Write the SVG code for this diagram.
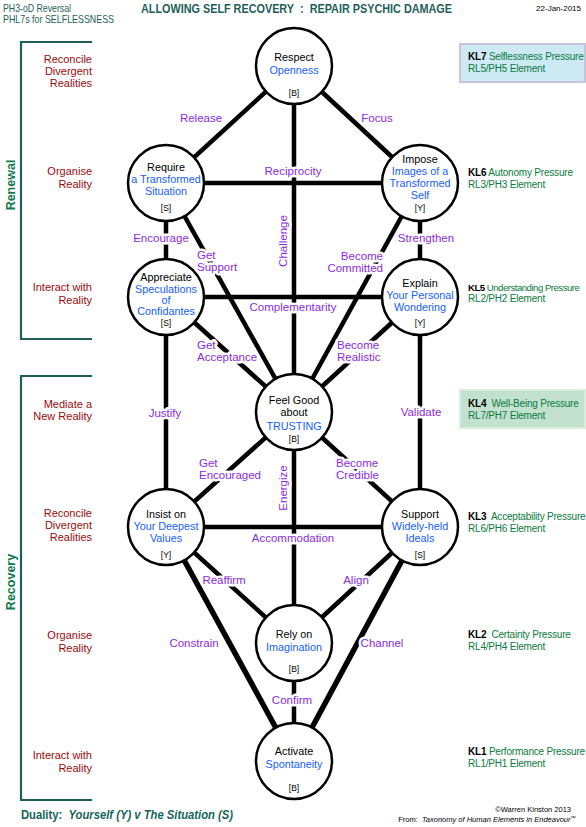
<svg xmlns="http://www.w3.org/2000/svg" width="586" height="827" viewBox="0 0 586 827">
<style>
text{font-family:"Liberation Sans",Arial,sans-serif}
.hd{fill:#1e5f5a;font-size:10.5px}
.ttl{fill:#1e5f5a;font-size:12.5px;font-weight:bold}
.lbl{fill:#9b0a0a;font-size:11px;text-anchor:end}
.grp{fill:#0f7a4f;font-size:12.5px;font-weight:bold;text-anchor:middle}
.br{fill:none;stroke:#1e5f5a;stroke-width:2.2}
.kl{fill:#0b7a3e;font-size:10px;letter-spacing:-0.2px}
.kl tspan.b{fill:#000;font-weight:bold}
.c{fill:#fff;stroke:#000;stroke-width:2.5}
.n{font-size:10.8px;text-anchor:middle;fill:#000}
.s{fill:#1560ff}
.t{font-size:8.5px;text-anchor:middle;fill:#000}
.ln{stroke:#000;stroke-width:4.5;fill:none}
.lk{stroke:#000;stroke-width:5.5;fill:none}
.el{fill:#8b2be2;font-size:11.5px;stroke:#fff;stroke-width:5;stroke-linejoin:round;paint-order:stroke}
.m{text-anchor:middle}
</style>
<rect width="586" height="827" fill="#fff"/>

<g id="header">
<text class="hd" x="3" y="12" textLength="68" lengthAdjust="spacingAndGlyphs">PH3-oD Reversal</text>
<text class="hd" x="3" y="23" textLength="111" lengthAdjust="spacingAndGlyphs">PHL7s for SELFLESSNESS</text>
<text class="ttl" x="141" y="13" textLength="311" lengthAdjust="spacingAndGlyphs">ALLOWING SELF RECOVERY&#160;&#160;:&#160;&#160;REPAIR PSYCHIC DAMAGE</text>
<text x="581" y="11" font-size="8" text-anchor="end" fill="#000">22-Jan-2015</text>
</g>

<g id="brackets">
<path class="br" d="M92,42 H21 V339 H92"/>
<path class="br" d="M92,376 H21 V800 H92"/>
<text class="grp" transform="translate(15,185) rotate(-90)">Renewal</text>
<text class="grp" transform="translate(15,582) rotate(-90)">Recovery</text>
</g>

<g id="left-labels">
<text class="lbl" x="92" y="63">Reconcile</text>
<text class="lbl" x="92" y="75">Divergent</text>
<text class="lbl" x="92" y="87">Realities</text>
<text class="lbl" x="92" y="175">Organise</text>
<text class="lbl" x="92" y="188">Reality</text>
<text class="lbl" x="92" y="291">Interact with</text>
<text class="lbl" x="92" y="304">Reality</text>
<text class="lbl" x="92" y="408">Mediate a</text>
<text class="lbl" x="92" y="420">New Reality</text>
<text class="lbl" x="92" y="517">Reconcile</text>
<text class="lbl" x="92" y="529">Divergent</text>
<text class="lbl" x="92" y="541">Realities</text>
<text class="lbl" x="92" y="639">Organise</text>
<text class="lbl" x="92" y="652">Reality</text>
<text class="lbl" x="92" y="759">Interact with</text>
<text class="lbl" x="92" y="772">Reality</text>
</g>

<g id="right-labels">
<rect x="460" y="44" width="125" height="38" fill="#cdeaf4" stroke="#c8c4de" stroke-width="2"/>
<rect x="460" y="390" width="125" height="38" fill="#c2e2cf" stroke="#d9ecdd" stroke-width="2"/>
<text class="kl" x="468" y="60"><tspan class="b">KL7</tspan> Selflessness Pressure</text>
<text class="kl" x="468" y="72">RL5/PH5 Element</text>
<text class="kl" x="468" y="176"><tspan class="b">KL6</tspan> Autonomy Pressure</text>
<text class="kl" x="468" y="188">RL3/PH3 Element</text>
<text class="kl" x="468" y="291" style="font-size:9.5px;letter-spacing:-0.45px"><tspan class="b">KL5</tspan> Understanding Pressure</text>
<text class="kl" x="468" y="302">RL2/PH2 Element</text>
<text class="kl" x="468" y="407"><tspan class="b">KL4</tspan>&#160; Well-Being Pressure</text>
<text class="kl" x="468" y="419">RL7/PH7 Element</text>
<text class="kl" x="468" y="520"><tspan class="b">KL3</tspan>&#160; Acceptability Pressure</text>
<text class="kl" x="468" y="532">RL6/PH6 Element</text>
<text class="kl" x="468" y="638"><tspan class="b">KL2</tspan>&#160; Certainty Pressure</text>
<text class="kl" x="468" y="650">RL4/PH4 Element</text>
<text class="kl" x="468" y="755"><tspan class="b">KL1</tspan> Performance Pressure</text>
<text class="kl" x="468" y="767">RL1/PH1 Element</text>
</g>

<g id="connectors">
<line class="ln" x1="294" y1="66" x2="166" y2="183"/>
<line class="ln" x1="294" y1="66" x2="420" y2="183"/>
<line class="ln" x1="294" y1="66" x2="294" y2="412"/>
<line class="ln" x1="166" y1="183" x2="420" y2="183"/>
<line class="ln" x1="166" y1="183" x2="166" y2="297"/>
<line class="ln" x1="420" y1="183" x2="420" y2="297"/>
<line class="ln" x1="166" y1="183" x2="294" y2="412"/>
<line class="ln" x1="420" y1="183" x2="294" y2="412"/>
<line class="ln" x1="166" y1="297" x2="420" y2="297"/>
<line class="ln" x1="166" y1="297" x2="294" y2="412"/>
<line class="ln" x1="420" y1="297" x2="294" y2="412"/>
<line class="ln" x1="166" y1="297" x2="166" y2="527"/>
<line class="ln" x1="420" y1="297" x2="420" y2="527"/>
<line class="ln" x1="294" y1="412" x2="166" y2="527"/>
<line class="ln" x1="294" y1="412" x2="420" y2="527"/>
<line class="ln" x1="294" y1="412" x2="294" y2="643"/>
<line class="ln" x1="166" y1="527" x2="420" y2="527"/>
<line class="ln" x1="166" y1="527" x2="294" y2="643"/>
<line class="ln" x1="420" y1="527" x2="294" y2="643"/>
<line class="lk" x1="166" y1="527" x2="294" y2="761"/>
<line class="lk" x1="420" y1="527" x2="294" y2="761"/>
<line class="ln" x1="294" y1="643" x2="294" y2="761"/>
<text class="el m" x="201" y="122">Release</text>
<text class="el m" x="377" y="122">Focus</text>
<text class="el m" x="293" y="175">Reciprocity</text>
<text class="el m" x="161" y="242">Encourage</text>
<text class="el m" x="426" y="242">Strengthen</text>
<text class="el" x="197" y="259">Get</text>
<text class="el" x="197" y="271">Support</text>
<text class="el" x="383" y="260" text-anchor="end">Become</text>
<text class="el" x="383" y="272" text-anchor="end">Committed</text>
<text class="el m" transform="translate(287,241) rotate(-90)">Challenge</text>
<text class="el m" x="293" y="311">Complementarity</text>
<text class="el" x="197" y="349">Get</text>
<text class="el" x="197" y="361">Acceptance</text>
<text class="el" x="337" y="349">Become</text>
<text class="el" x="337" y="361">Realistic</text>
<text class="el m" x="165" y="417">Justify</text>
<text class="el m" x="421" y="416">Validate</text>
<text class="el" x="199" y="467">Get</text>
<text class="el" x="199" y="479">Encouraged</text>
<text class="el" x="336" y="467">Become</text>
<text class="el" x="336" y="479">Credible</text>
<text class="el m" transform="translate(287,488) rotate(-90)">Energize</text>
<text class="el m" x="293" y="542">Accommodation</text>
<text class="el m" x="224" y="584">Reaffirm</text>
<text class="el m" x="356" y="584">Align</text>
<text class="el m" x="194" y="647">Constrain</text>
<text class="el m" x="382" y="647">Channel</text>
<text class="el m" x="292" y="704">Confirm</text>
</g>

<g id="n-respect">
<circle class="c" cx="294" cy="66" r="38"/>
<text class="n" x="294" y="61">Respect</text>
<text class="n s" x="294" y="74">Openness</text>
<text class="t" x="294" y="96">[B]</text>
</g>
<g id="n-require">
<circle class="c" cx="166" cy="183" r="38"/>
<text class="n" x="166" y="171">Require</text>
<text class="n s" x="166" y="183">a Transformed</text>
<text class="n s" x="166" y="195">Situation</text>
<text class="t" x="166" y="211">[S]</text>
</g>
<g id="n-impose">
<circle class="c" cx="420" cy="183" r="38"/>
<text class="n" x="420" y="163">Impose</text>
<text class="n s" x="420" y="175">Images of a</text>
<text class="n s" x="420" y="187">Transformed</text>
<text class="n s" x="420" y="199">Self</text>
<text class="t" x="420" y="211">[Y]</text>
</g>
<g id="n-appreciate">
<circle class="c" cx="166" cy="297" r="38"/>
<text class="n" x="166" y="281">Appreciate</text>
<text class="n s" x="166" y="293">Speculations</text>
<text class="n s" x="166" y="304">of</text>
<text class="n s" x="166" y="315">Confidantes</text>
<text class="t" x="166" y="326">[S]</text>
</g>
<g id="n-explain">
<circle class="c" cx="420" cy="297" r="38"/>
<text class="n" x="420" y="287">Explain</text>
<text class="n s" x="420" y="299">Your Personal</text>
<text class="n s" x="420" y="311">Wondering</text>
<text class="t" x="420" y="326">[Y]</text>
</g>
<g id="n-feelgood">
<circle class="c" cx="294" cy="412" r="38"/>
<text class="n" x="294" y="404">Feel Good</text>
<text class="n" x="294" y="416">about</text>
<text class="n s" x="294" y="430" font-size="11.5">TRUSTING</text>
<text class="t" x="294" y="442">[B]</text>
</g>
<g id="n-insist">
<circle class="c" cx="166" cy="527" r="38"/>
<text class="n" x="166" y="518">Insist on</text>
<text class="n s" x="166" y="530">Your Deepest</text>
<text class="n s" x="166" y="542">Values</text>
<text class="t" x="166" y="558">[Y]</text>
</g>
<g id="n-support">
<circle class="c" cx="420" cy="527" r="38"/>
<text class="n" x="420" y="518">Support</text>
<text class="n s" x="420" y="530">Widely-held</text>
<text class="n s" x="420" y="542">Ideals</text>
<text class="t" x="420" y="558">[S]</text>
</g>
<g id="n-rely">
<circle class="c" cx="294" cy="643" r="38"/>
<text class="n" x="294" y="638">Rely on</text>
<text class="n s" x="294" y="651">Imagination</text>
<text class="t" x="294" y="672">[B]</text>
</g>
<g id="n-activate">
<circle class="c" cx="294" cy="761" r="38"/>
<text class="n" x="294" y="755">Activate</text>
<text class="n s" x="294" y="768">Spontaneity</text>
<text class="t" x="294" y="791">[B]</text>
</g>

<g id="footer">
<text x="21" y="819" font-size="12" font-weight="bold" fill="#15665a" textLength="212" lengthAdjust="spacingAndGlyphs">Duality:&#160;&#160;<tspan font-style="italic">Yourself (Y) v The Situation (S)</tspan></text>
<text x="571" y="812" font-size="7.5" text-anchor="end" fill="#000">©Warren Kinston 2013</text>
<text x="576" y="822" font-size="7.5" text-anchor="end" fill="#000">From:&#160;&#160;<tspan font-style="italic">Taxonomy of Human Elements in Endeavour</tspan><tspan font-size="5.5" dy="-2">™</tspan></text>
</g>
</svg>
